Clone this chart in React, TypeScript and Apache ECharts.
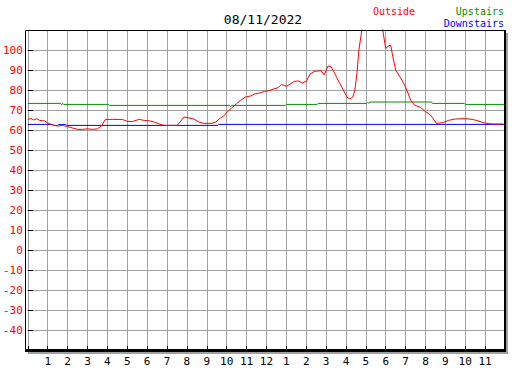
import React, { useEffect, useRef } from "react";
import * as echarts from "echarts";

const outsideHours = [0, 0.15, 0.3, 0.45, 0.6, 0.85, 1, 1.25, 1.5, 1.75, 2, 2.25, 2.5, 2.75, 3, 3.25, 3.5, 3.7, 3.9, 4.25, 4.75, 5, 5.25, 5.6, 5.85, 6.15, 6.35, 6.6, 6.85, 7.5, 7.7, 7.85, 8.1, 8.35, 8.6, 8.85, 9.25, 9.45, 9.65, 9.85, 10.05, 10.25, 10.5, 10.7, 10.95, 11.2, 11.4, 11.65, 11.9, 12.15, 12.35, 12.6, 12.75, 13, 13.2, 13.4, 13.6, 13.8, 14, 14.2, 14.4, 14.75, 14.9, 15.1, 15.25, 15.45, 15.65, 15.85, 16.05, 16.2, 16.35, 16.45, 16.55, 16.65, 16.8, 16.95, 17.25, 17.55, 17.8, 18, 18.15, 18.25, 18.35, 18.5, 18.75, 18.95, 19.1, 19.25, 19.45, 19.75, 20, 20.25, 20.4, 20.55, 20.9, 21.15, 21.5, 22, 22.35, 22.6, 22.9, 23.15, 23.4, 23.9];
const outsideTemps = [65.3, 65.8, 65, 65.6, 64.8, 64.5, 63.5, 62.5, 62, 62.3, 61.7, 61, 60.3, 60.3, 60.6, 60.3, 60.6, 62, 65.3, 65.3, 65.3, 64.3, 64.2, 65.3, 64.8, 64.5, 64, 63, 62.3, 62.3, 64.5, 66.5, 66, 65.5, 64, 63.3, 63.3, 64, 65.7, 67, 69.3, 71, 73.2, 74.8, 76.5, 77, 78, 78.5, 79.3, 79.7, 80.5, 81.2, 82.8, 81.8, 83, 84.3, 84.5, 83.5, 84.3, 88, 89.3, 89.7, 87.5, 92, 91.7, 88, 84, 80.3, 76.5, 75.5, 76.5, 80, 88, 100, 110, 116, 120, 118, 113, 100.8, 102, 102.5, 97, 90, 86, 82.5, 79, 75, 72.5, 71.3, 69.2, 67.5, 65.5, 63.3, 63.7, 64.8, 65.5, 65.7, 65.3, 64.7, 63.7, 63.2, 63, 63];

const upstairsHours = [0, 1.65, 1.7, 1.75, 1.8, 4.05, 4.1, 10.15, 10.2, 10.25, 12.95, 13.0, 14.55, 14.6, 17.05, 17.1, 17.15, 17.2, 20.3, 20.35, 21.95, 22.0, 23.95];
const upstairsTemps = [73.3, 73.3, 72.6, 73.3, 72.8, 72.8, 72.3, 72.3, 71.7, 72.3, 72.3, 72.8, 72.8, 73.3, 73.3, 73.8, 73.3, 74, 74, 73.3, 73.3, 72.8, 72.8];

const downstairsHours = [0, 1.2, 1.3, 1.5, 1.55, 1.9, 1.95, 9.55, 9.6, 23.95];
const downstairsTemps = [62.8, 62.8, 62.3, 62.3, 62.8, 62.8, 62.3, 62.3, 62.8, 62.8];

const hourLabels = ["", "1", "2", "3", "4", "5", "6", "7", "8", "9", "10", "11", "12", "1", "2", "3", "4", "5", "6", "7", "8", "9", "10", "11", ""];
const dateTitle = "08/11/2022";
const seriesNames = ["Outside", "Upstairs", "Downstairs"];

const pairs = (xs: number[], ys: number[]) => xs.map((x, i) => [x, ys[i]]);

export default function App() {
  const ref = useRef<HTMLDivElement>(null);
  useEffect(() => {
    if (!ref.current) return;
    const chart = echarts.init(ref.current, null, { renderer: "svg" });
    const mono = "DejaVu Sans Mono";
    chart.setOption({
      animation: false,
      backgroundColor: "#ffffff",
      grid: { left: 25, top: 30, width: 480, height: 320, containLabel: false },
      xAxis: {
        type: "value",
        min: 0,
        max: 24,
        interval: 1,
        axisLine: { show: false, onZero: false },
        axisTick: { show: true, inside: true, length: 4, lineStyle: { color: "#000" } },
        axisLabel: {
          color: "#000",
          fontFamily: mono,
          fontSize: 11,
          margin: 6,
          formatter: (v: number) => hourLabels[Math.round(v)] ?? "",
        },
        splitLine: { show: true, lineStyle: { color: "#a0a0a0", width: 1 } },
      },
      yAxis: {
        type: "value",
        min: -50,
        max: 110,
        interval: 10,
        axisLine: { show: false, onZero: false },
        axisTick: { show: true, inside: true, length: 5, lineStyle: { color: "#000" } },
        axisLabel: {
          color: "#ff0000",
          fontFamily: mono,
          fontSize: 11,
          margin: 5,
          formatter: (v: number) => (v <= -50 || v >= 110 ? "" : String(v)),
        },
        splitLine: { show: true, lineStyle: { color: "#a0a0a0", width: 1 } },
      },
      graphic: [
        { type: "line", shape: { x1: 507, y1: 33, x2: 507, y2: 353 }, style: { stroke: "#a0a0a0", lineWidth: 2 }, z: 1 },
        { type: "line", shape: { x1: 28, y1: 353, x2: 508, y2: 353 }, style: { stroke: "#a0a0a0", lineWidth: 2 }, z: 1 },
        { type: "rect", shape: { x: 25.5, y: 30.5, width: 479, height: 319 }, style: { fill: "none", stroke: "#000", lineWidth: 1 }, z: 100 },
        { type: "line", shape: { x1: 505, y1: 30, x2: 505, y2: 351.5 }, style: { stroke: "#000", lineWidth: 2 }, z: 100 },
        { type: "line", shape: { x1: 25, y1: 351, x2: 506, y2: 351 }, style: { stroke: "#000", lineWidth: 2 }, z: 100 },
        { type: "text", x: 263, y: 19, style: { text: dateTitle, fill: "#000", font: `13px "${mono}"`, textAlign: "center", textVerticalAlign: "middle" } },
        { type: "text", x: 373, y: 11, style: { text: seriesNames[0], fill: "#ff0000", font: `10px "${mono}"`, textAlign: "left", textVerticalAlign: "middle" } },
        { type: "text", x: 504, y: 11, style: { text: seriesNames[1], fill: "#009000", font: `10px "${mono}"`, textAlign: "right", textVerticalAlign: "middle" } },
        { type: "text", x: 504, y: 23, style: { text: seriesNames[2], fill: "#0000ff", font: `10px "${mono}"`, textAlign: "right", textVerticalAlign: "middle" } },
      ],
      series: [
        {
          name: seriesNames[2],
          type: "line",
          data: pairs(downstairsHours, downstairsTemps),
          showSymbol: false,
          lineStyle: { color: "#0000ff", width: 1 },
          clip: true,
          z: 3,
        },
        {
          name: seriesNames[1],
          type: "line",
          data: pairs(upstairsHours, upstairsTemps),
          showSymbol: false,
          lineStyle: { color: "#009000", width: 1 },
          clip: true,
          z: 4,
        },
        {
          name: seriesNames[0],
          type: "line",
          data: pairs(outsideHours, outsideTemps),
          showSymbol: false,
          lineStyle: { color: "#ff0000", width: 1 },
          clip: true,
          z: 5,
        },
      ],
    });
    return () => chart.dispose();
  }, []);
  return <div ref={ref} style={{ position: "absolute", left: 0, top: 0, width: 527, height: 370 }} />;
}
